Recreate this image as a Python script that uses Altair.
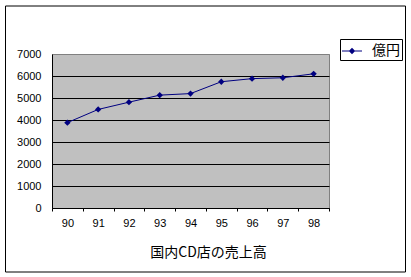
import altair as alt
import pandas as pd

years = ["90", "91", "92", "93", "94", "95", "96", "97", "98"]
sales = [3880, 4480, 4810, 5130, 5200, 5740, 5880, 5920, 6100]
series_name = "億円"
y_ticks = [0, 1000, 2000, 3000, 4000, 5000, 6000, 7000]
x_title = "国内CD店の売上高"

NAVY = "#000080"
LABEL_FONT = "Liberation Sans"
CJK_FONT = "Noto Sans CJK JP"

df = pd.DataFrame({"year": years, "sales": sales, "series": [series_name] * len(years)})
frame_df = pd.DataFrame({"k": [0]})

x_enc = alt.X(
    "year:O",
    sort=years,
    bandPosition=0.5,
    scale=alt.Scale(type="band", paddingInner=0, paddingOuter=0),
    axis=alt.Axis(
        title=x_title,
        titleFont=CJK_FONT,
        titleFontSize=14,
        titleFontWeight="normal",
        titleColor="black",
        titleX=156,
        titleY=44,
        titleAlign="center",
        titleBaseline="middle",
        labelAngle=0,
        labelFont=LABEL_FONT,
        labelFontSize=11,
        labelColor="black",
        labelPadding=6,
        tickBand="extent",
        tickSize=3,
        tickColor="black",
        domainColor="black",
        grid=False,
    ),
)

y_enc = alt.Y(
    "sales:Q",
    scale=alt.Scale(domain=[0, 7000], nice=False),
    axis=alt.Axis(
        title=None,
        values=y_ticks,
        format="d",
        labelFont=LABEL_FONT,
        labelFontSize=11,
        labelColor="black",
        labelPadding=11,
        ticks=False,
        domainColor="black",
        grid=True,
        gridColor={"condition": {"test": "datum.value === 7000", "value": "#808080"}, "value": "black"},
        gridOpacity=1,
        gridWidth=1,
    ),
)

frame = alt.Chart(frame_df).mark_rect(filled=False, stroke="black", strokeWidth=1).encode(
    x=alt.value(-46.5), x2=alt.value(353.5), y=alt.value(-48), y2=alt.value(218)
)

line = alt.Chart(df).mark_line(color=NAVY, strokeWidth=1).encode(x=x_enc, y=y_enc)

points = alt.Chart(df).mark_point(filled=True, shape="diamond", size=40, opacity=1).encode(
    x=x_enc,
    y=y_enc,
    color=alt.Color(
        "series:N",
        scale=alt.Scale(range=[NAVY]),
        legend=alt.Legend(
            title=None,
            orient="none",
            legendX=288,
            legendY=-15,
            padding=2,
            strokeColor="black",
            fillColor="white",
            cornerRadius=0,
            symbolType="M-1,-0.05H1V0.05H-1Z M0,-0.32L0.32,0L0,0.32L-0.32,0Z",
            symbolSize=400,
            symbolStrokeWidth=0,
            symbolOpacity=1,
            labelFont=CJK_FONT,
            labelFontSize=14,
            labelColor="black",
            labelOffset=10,
        ),
    ),
)

chart = (
    alt.layer(frame, line, points)
    .properties(
        width=277,
        height=154,
        autosize=alt.AutoSizeParams(type="none"),
        padding={"left": 52, "top": 54, "right": 82, "bottom": 69},
        background="white",
    )
    .configure_view(fill="#C0C0C0", stroke="#808080", strokeWidth=1)
)

chart.save("out.html", embed_options={"renderer": "svg", "actions": False})
